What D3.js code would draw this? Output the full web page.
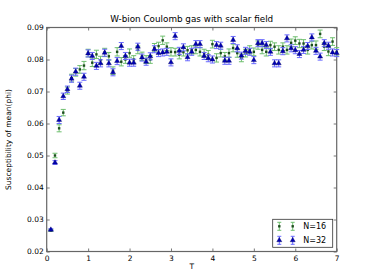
<!DOCTYPE html>
<html>
<head>
<meta charset="utf-8">
<script src="https://cdn.jsdelivr.net/npm/d3@7"></script>
<style>
  body { margin: 0; background: #fff; }
  text { font-family: "DejaVu Sans", sans-serif; fill: #000; }
</style>
</head>
<body>
<div id="chart"></div>
<script>
// temperatures (x values)
const temps = [0.1,0.2,0.3,0.4,0.5,0.6,0.7,0.8,0.9,1.0,
  1.1,1.2,1.3,1.4,1.5,1.6,1.7,1.8,1.9,2.0,
  2.1,2.2,2.3,2.4,2.5,2.6,2.7,2.8,2.9,3.0,
  3.1,3.2,3.3,3.4,3.5,3.6,3.7,3.8,3.9,4.0,
  4.1,4.2,4.3,4.4,4.5,4.6,4.7,4.8,4.9,5.0,
  5.1,5.2,5.3,5.4,5.5,5.6,5.7,5.8,5.9,6.0,
  6.1,6.2,6.3,6.4,6.5,6.6,6.7,6.8,6.9,7.0];

// N=16 susceptibility + errors
const chiN16 = [0.0266,0.0500,0.0585,0.0634,0.0703,0.0742,0.0760,0.0769,0.0781,0.0820,
  0.0790,0.0816,0.0798,0.0822,0.0810,0.0765,0.0824,0.0793,0.0800,0.0820,
  0.0800,0.0830,0.0810,0.0800,0.0800,0.0837,0.0842,0.0860,0.0840,0.0824,
  0.0823,0.0815,0.0823,0.0829,0.0830,0.0830,0.0824,0.0820,0.0815,0.0848,
  0.0805,0.0820,0.0810,0.0820,0.0836,0.0820,0.0805,0.0820,0.0830,0.0824,
  0.0845,0.0830,0.0824,0.0845,0.0840,0.0830,0.0840,0.0830,0.0852,0.0859,
  0.0850,0.0850,0.0830,0.0845,0.0845,0.0880,0.0840,0.0825,0.0856,0.0824];
const errN16 = [0.0003,0.0007,0.0011,0.0010,0.0011,0.0012,0.0012,0.0012,0.0013,0.0012,
  0.0012,0.0013,0.0012,0.0013,0.0012,0.0012,0.0013,0.0013,0.0012,0.0013,
  0.0012,0.0012,0.0013,0.0012,0.0012,0.0013,0.0012,0.0013,0.0012,0.0013,
  0.0012,0.0013,0.0012,0.0012,0.0013,0.0012,0.0013,0.0012,0.0013,0.0012,
  0.0013,0.0012,0.0012,0.0013,0.0012,0.0013,0.0012,0.0012,0.0013,0.0012,
  0.0013,0.0012,0.0013,0.0012,0.0012,0.0013,0.0012,0.0013,0.0012,0.0012,
  0.0013,0.0012,0.0013,0.0012,0.0013,0.0012,0.0012,0.0013,0.0012,0.0013];

// N=32 susceptibility + errors
const chiN32 = [0.0268,0.0478,0.0611,0.0685,0.0707,0.0740,0.0762,0.0718,0.0746,0.0819,
  0.0811,0.0780,0.0788,0.0821,0.0788,0.0760,0.0795,0.0842,0.0811,0.0790,
  0.0790,0.0840,0.0806,0.0793,0.0810,0.0832,0.0820,0.0822,0.0824,0.0791,
  0.0873,0.0827,0.0838,0.0807,0.0824,0.0848,0.0848,0.0811,0.0804,0.0800,
  0.0845,0.0843,0.0796,0.0796,0.0861,0.0835,0.0812,0.0827,0.0824,0.0798,
  0.0851,0.0851,0.0845,0.0824,0.0788,0.0788,0.0826,0.0866,0.0835,0.0829,
  0.0817,0.0830,0.0842,0.0869,0.0827,0.0809,0.0851,0.0843,0.0822,0.0820];
const errN32 = [0.0003,0.0006,0.0011,0.0010,0.0010,0.0011,0.0011,0.0011,0.0011,0.0011,
  0.0011,0.0011,0.0011,0.0011,0.0011,0.0011,0.0011,0.0011,0.0011,0.0011,
  0.0011,0.0011,0.0011,0.0011,0.0011,0.0011,0.0011,0.0011,0.0011,0.0011,
  0.0011,0.0011,0.0011,0.0011,0.0011,0.0011,0.0011,0.0011,0.0011,0.0011,
  0.0011,0.0011,0.0011,0.0011,0.0011,0.0011,0.0011,0.0011,0.0011,0.0011,
  0.0011,0.0011,0.0011,0.0011,0.0011,0.0011,0.0011,0.0011,0.0011,0.0011,
  0.0011,0.0011,0.0011,0.0011,0.0011,0.0011,0.0011,0.0011,0.0011,0.0011];

const xTicks = [0,1,2,3,4,5,6,7];
const yTicks = [0.02,0.03,0.04,0.05,0.06,0.07,0.08,0.09];
const seriesNames = ["N=16","N=32"];

const W = 374, H = 280;
const margin = { top: 27.5, right: 37.3, bottom: 28.5, left: 46.7 };
const width = W - margin.left - margin.right;
const height = H - margin.top - margin.bottom;

const svg = d3.select("#chart").append("svg")
  .attr("width", W).attr("height", H);
svg.append("rect").attr("width", W).attr("height", H).attr("fill", "#fff");

const g = svg.append("g").attr("transform", `translate(${margin.left},${margin.top})`);

const x = d3.scaleLinear().domain([0, 7]).range([0, width]);
const y = d3.scaleLinear().domain([0.02, 0.09]).range([height, 0]);

// axes, ticks inward on all four sides (old matplotlib look)
const axisStyle = (sel) => {
  sel.select(".domain").remove();
  sel.selectAll(".tick line").attr("stroke", "#555").attr("stroke-width", 0.8);
  sel.selectAll(".tick text").style("font-size", "7.5px");
};
g.append("g").attr("transform", `translate(0,${height})`)
  .call(d3.axisBottom(x).tickValues(xTicks).tickFormat(d3.format("d")).tickSizeInner(-3).tickPadding(4))
  .call(axisStyle);
g.append("g")
  .call(d3.axisTop(x).tickValues(xTicks).tickFormat("").tickSizeInner(-3))
  .call(axisStyle);
g.append("g")
  .call(d3.axisLeft(y).tickValues(yTicks).tickFormat(d3.format(".2f")).tickSizeInner(-3).tickPadding(3))
  .call(axisStyle);
g.append("g").attr("transform", `translate(${width},0)`)
  .call(d3.axisRight(y).tickValues(yTicks).tickFormat("").tickSizeInner(-3))
  .call(axisStyle);

g.append("rect").attr("width", width).attr("height", height)
  .attr("fill", "none").attr("stroke", "#666").attr("stroke-width", 1.2);

// error bars
const drawSeries = (vals, errs, barColor, cls) => {
  const data = temps.map((t, i) => ({ t, v: vals[i], e: errs[i] }));
  const eb = g.append("g").attr("class", cls).attr("stroke", barColor).attr("stroke-width", 1);
  eb.selectAll("line.v").data(data).join("line").attr("class", "v")
    .attr("x1", d => x(d.t)).attr("x2", d => x(d.t))
    .attr("y1", d => y(d.v - d.e)).attr("y2", d => y(d.v + d.e));
  eb.selectAll("line.top").data(data).join("line").attr("class", "top")
    .attr("x1", d => x(d.t) - 2.5).attr("x2", d => x(d.t) + 2.5)
    .attr("y1", d => y(d.v + d.e)).attr("y2", d => y(d.v + d.e));
  eb.selectAll("line.bot").data(data).join("line").attr("class", "bot")
    .attr("x1", d => x(d.t) - 2.5).attr("x2", d => x(d.t) + 2.5)
    .attr("y1", d => y(d.v - d.e)).attr("y2", d => y(d.v - d.e));
  return data;
};

const triangle = d3.symbol().type(d3.symbolTriangle).size(11);

const d16 = drawSeries(chiN16, errN16, "#6fbf6f", "n16");
g.append("g").selectAll("rect").data(d16).join("rect")
  .attr("x", d => x(d.t) - 1.2).attr("y", d => y(d.v) - 1.2)
  .attr("width", 2.4).attr("height", 2.4).attr("fill", "#1d4d1d");

const d32 = drawSeries(chiN32, errN32, "#6a6aff", "n32");
g.append("g").selectAll("path").data(d32).join("path")
  .attr("d", triangle)
  .attr("transform", d => `translate(${x(d.t)},${y(d.v)})`)
  .attr("fill", "#0000b4").attr("stroke", "#000060").attr("stroke-width", 0.4);

// title & labels
svg.append("text").attr("x", margin.left + width / 2).attr("y", 22)
  .attr("text-anchor", "middle").style("font-size", "8.8px")
  .text("W-bion Coulomb gas with scalar field");
svg.append("text").attr("x", margin.left + width / 2).attr("y", 269)
  .attr("text-anchor", "middle").style("font-size", "7.5px").text("T");
svg.append("text").attr("transform", `translate(11,${margin.top + height / 2}) rotate(-90)`)
  .attr("text-anchor", "middle").style("font-size", "7.5px")
  .text("Susceptibility of mean(phi)");

// legend
const lg = svg.append("g").attr("transform", "translate(272.7,219.3)");
lg.append("rect").attr("width", 60).attr("height", 28)
  .attr("fill", "#fff").attr("stroke", "#333").attr("stroke-width", 0.8);
const legendRows = [
  { name: seriesNames[0], bar: "#6fbf6f", mark: "dot" },
  { name: seriesNames[1], bar: "#6a6aff", mark: "tri" }
];
legendRows.forEach((r, i) => {
  const ry = 7 + i * 14;
  [6.6, 20].forEach(mx => {
    lg.append("line").attr("x1", mx).attr("x2", mx).attr("y1", ry - 4).attr("y2", ry + 4)
      .attr("stroke", r.bar);
    lg.append("line").attr("x1", mx - 2).attr("x2", mx + 2).attr("y1", ry - 4).attr("y2", ry - 4)
      .attr("stroke", r.bar);
    lg.append("line").attr("x1", mx - 2).attr("x2", mx + 2).attr("y1", ry + 4).attr("y2", ry + 4)
      .attr("stroke", r.bar);
    if (r.mark === "dot") {
      lg.append("rect").attr("x", mx - 1.2).attr("y", ry - 1.2).attr("width", 2.4).attr("height", 2.4)
        .attr("fill", "#1d4d1d");
    } else {
      lg.append("path").attr("d", triangle).attr("transform", `translate(${mx},${ry})`)
        .attr("fill", "#0000b4").attr("stroke", "#000060").attr("stroke-width", 0.4);
    }
  });
  lg.append("text").attr("x", 30.5).attr("y", ry + 3).style("font-size", "8px").text(r.name);
});
</script>
</body>
</html>
